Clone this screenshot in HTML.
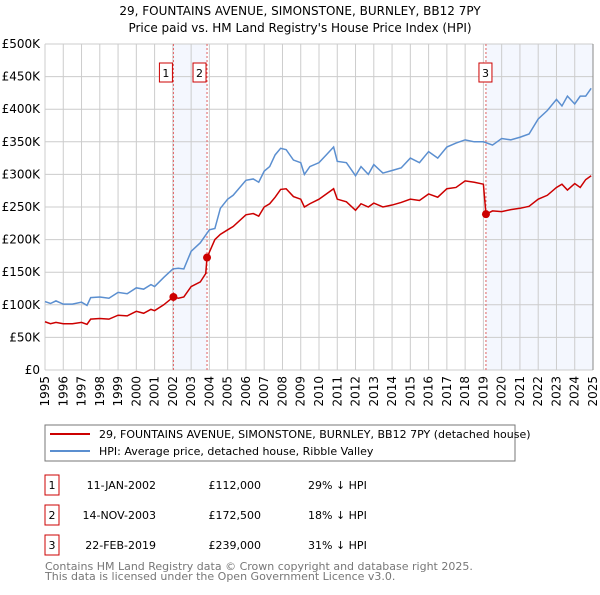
<!DOCTYPE html>
<html><head><meta charset="utf-8"><style>
body{margin:0;background:#fff;width:600px;height:590px;overflow:hidden;font-family:"Liberation Sans","DejaVu Sans",sans-serif}
svg text{font-family:"DejaVu Sans","Liberation Sans",sans-serif}
</style></head><body>
<svg id="c" width="600" height="590" viewBox="0 0 600 590" xmlns="http://www.w3.org/2000/svg">
<text x="300" y="15" text-anchor="middle" font-size="12" fill="#000">29, FOUNTAINS AVENUE, SIMONSTONE, BURNLEY, BB12 7PY</text>
<text x="300" y="32" text-anchor="middle" font-size="12" fill="#000">Price paid vs. HM Land Registry's House Price Index (HPI)</text>
<g id="grid"></g><g id="series"></g><g id="axes"></g>
<rect x="45" y="425" width="470" height="36" fill="#fff" stroke="#777"/>
<line x1="50" y1="434" x2="90" y2="434" stroke="#cc0000" stroke-width="2"/>
<text x="99" y="438" font-size="11">29, FOUNTAINS AVENUE, SIMONSTONE, BURNLEY, BB12 7PY (detached house)</text>
<line x1="50" y1="451" x2="90" y2="451" stroke="#5b8fd0" stroke-width="2"/>
<text x="99" y="455" font-size="11">HPI: Average price, detached house, Ribble Valley</text>
<g id="table" font-size="11"></g>
<text x="45" y="570" font-size="11" fill="#777">Contains HM Land Registry data © Crown copyright and database right 2025.</text>
<text x="45" y="580" font-size="11" fill="#777">This data is licensed under the Open Government Licence v3.0.</text>
</svg>
<script>
const hpiYears=[1995,1995.3,1995.6,1996,1996.5,1997,1997.3,1997.5,1998,1998.5,1999,1999.5,2000,2000.4,2000.8,2001,2001.5,2002,2002.3,2002.6,2003,2003.5,2004,2004.3,2004.6,2005,2005.3,2006,2006.4,2006.7,2007,2007.3,2007.6,2007.9,2008.2,2008.6,2009,2009.2,2009.5,2010,2010.4,2010.8,2011,2011.5,2012,2012.3,2012.7,2013,2013.5,2014,2014.5,2015,2015.5,2016,2016.5,2017,2017.5,2018,2018.5,2019,2019.5,2020,2020.5,2021,2021.5,2022,2022.5,2023,2023.3,2023.6,2024,2024.3,2024.6,2024.9];
const hpiValues=[105,102,106,101,101,104,99,111,112,110,119,117,126,124,131,128,142,155,156,155,182,195,215,217,248,262,268,291,293,288,305,312,330,340,338,322,318,300,312,318,330,342,320,318,298,312,300,315,302,306,310,325,318,335,325,342,348,353,350,350,345,355,353,357,362,385,398,415,405,420,408,420,420,432];
const priceYears=[1995,1995.3,1995.6,1996,1996.5,1997,1997.3,1997.5,1998,1998.5,1999,1999.5,2000,2000.4,2000.8,2001,2001.5,2002.03,2002.3,2002.6,2003,2003.5,2003.8,2003.87,2004.3,2004.6,2005,2005.3,2006,2006.4,2006.7,2007,2007.3,2007.6,2007.9,2008.2,2008.6,2009,2009.2,2009.5,2010,2010.4,2010.8,2011,2011.5,2012,2012.3,2012.7,2013,2013.5,2014,2014.5,2015,2015.5,2016,2016.5,2017,2017.5,2018,2018.5,2019,2019.14,2019.5,2020,2020.5,2021,2021.5,2022,2022.5,2023,2023.3,2023.6,2024,2024.3,2024.6,2024.9];
const priceValues=[74,71,73,71,71,73,70,78,79,78,84,83,90,87,93,91,100,112,110,112,128,135,148,172.5,200,208,215,220,238,240,236,250,255,265,277,278,266,262,250,255,262,270,278,262,258,245,255,250,256,250,253,257,262,260,270,265,278,280,290,288,285,239,244,243,246,248,251,262,268,280,285,276,286,280,292,298];
const yTicks=[0,50,100,150,200,250,300,350,400,450,500];
const yTickLabels=["£0","£50K","£100K","£150K","£200K","£250K","£300K","£350K","£400K","£450K","£500K"];
const xTicks=[1995,1996,1997,1998,1999,2000,2001,2002,2003,2004,2005,2006,2007,2008,2009,2010,2011,2012,2013,2014,2015,2016,2017,2018,2019,2020,2021,2022,2023,2024,2025];
const saleYears=[2002.03,2003.87,2019.14];
const saleValues=[112,172.5,239];
const saleLabels=["1","2","3"];
const saleDates=["11-JAN-2002","14-NOV-2003","22-FEB-2019"];
const salePrices=["£112,000","£172,500","£239,000"];
const saleDiffs=["29% ↓ HPI","18% ↓ HPI","31% ↓ HPI"];
const X0=45,X1=593,Y0=370,Y1=44;
const x=v=>X0+(v-1995)/30*(X1-X0);
const y=v=>Y0-v/500*(Y0-Y1);
const NS="http://www.w3.org/2000/svg";
function mk(p,t,a){const e=document.createElementNS(NS,t);for(const k in a)e.setAttribute(k,a[k]);p.appendChild(e);return e;}
const G=document.getElementById('grid'),S=document.getElementById('series'),A=document.getElementById('axes'),T=document.getElementById('table');
let r=mk(G,'rect',{x:x(saleYears[0]),y:Y1,width:x(saleYears[1])-x(saleYears[0]),height:Y0-Y1,fill:'#f4f7fe'});


r=mk(G,'rect',{x:x(saleYears[2]),y:Y1,width:X1-x(saleYears[2]),height:Y0-Y1,fill:'#f4f7fe'});


yTicks.forEach((v,i)=>{
 const l=mk(G,'line',{x1:X0,x2:X1,y1:y(v),y2:y(v),stroke:'#ccc','stroke-width':1});
 
 
 const t=mk(A,'text',{x:40,y:y(v)+4,'text-anchor':'end','font-size':12});
 t.textContent=yTickLabels[i];
 
 
});
xTicks.forEach(v=>{
 const l=mk(G,'line',{x1:x(v),x2:x(v),y1:Y1,y2:Y0,stroke:'#ccc','stroke-width':1});
 
 
 const t=mk(A,'text',{x:0,y:0,'text-anchor':'end','font-size':12,transform:`translate(${x(v)+4},${Y0+6}) rotate(-90)`});
 t.textContent=v;
 
 
});
const ed=mk(A,'line',{x1:X1,x2:X1,y1:Y1,y2:Y0,stroke:'#888','stroke-width':1});


saleYears.forEach((v,i)=>{
 const l=mk(G,'line',{x1:x(v),x2:x(v),y1:Y1,y2:Y0,stroke:'#e06060','stroke-width':1,'stroke-dasharray':'2,2'});
 
 
});
const hp=mk(S,'polyline',{points:hpiYears.map((v,i)=>x(v)+','+y(hpiValues[i])).join(' '),fill:'none',stroke:'#5b8fd0','stroke-width':1.5});


const pp=mk(S,'polyline',{points:priceYears.map((v,i)=>x(v)+','+y(priceValues[i])).join(' '),fill:'none',stroke:'#cc0000','stroke-width':1.5});


saleYears.forEach((v,i)=>{
 const c=mk(S,'circle',{cx:x(v),cy:y(saleValues[i]),r:4,fill:'#cc0000'});
 
 
 const bx=x(v)-(i==2?6:13);
 const b=mk(A,'rect',{x:bx-1,y:63,width:13,height:19,fill:'#fff',stroke:'#cc0000'});
 
 
 const t=mk(A,'text',{x:bx+5.5,y:77,'text-anchor':'middle','font-size':11});
 t.textContent=saleLabels[i];
 
 
 const ty=475+i*30;
 const tb=mk(T,'rect',{x:45,y:ty,width:14,height:20,fill:'#fff',stroke:'#cc0000'});
 
 
 const cells=[[52,'middle',saleLabels[i],'table-index'],[156,'end',saleDates[i],'table-date'],[261,'end',salePrices[i],'table-price'],[308,'start',saleDiffs[i],'table-hpi-diff']];
 cells.forEach(cd=>{
  const tt=mk(T,'text',{x:cd[0],y:ty+14,'text-anchor':cd[1]});
  tt.textContent=cd[2];
  
  
 });
});
</script>
</body></html>
